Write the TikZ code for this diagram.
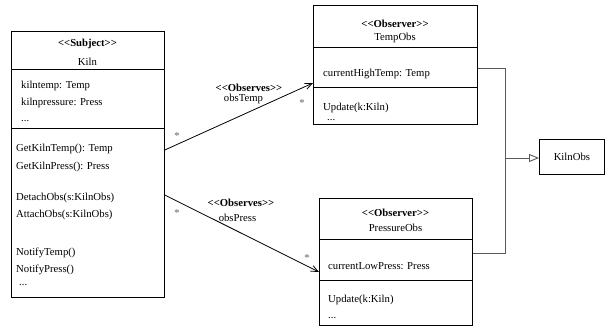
\documentclass[tikz,border=0pt]{standalone}
\usepackage{fontspec}
\setmainfont{Liberation Serif}
\usetikzlibrary{arrows.meta}
\newcommand{\stereo}[1]{\textless\kern0pt\textless\kern0pt#1\kern0pt\textgreater\kern0pt\textgreater}
\begin{document}
\begin{tikzpicture}[x=1pt,y=-1pt,
  box/.style={draw=black,line width=0.8pt,anchor=north west,inner sep=0pt},
  txt/.style={font=\fontsize{10.7}{12}\selectfont,inner sep=0pt},
  btxt/.style={txt,font=\fontsize{10.7}{12}\selectfont\bfseries},
  lt/.style={txt,anchor=base west},
  star/.style={txt,text=black!60},
  assoc/.style={draw=black,line width=0.8pt,-{Straight Barb[length=7pt,width=6pt]}},
  gline/.style={draw=black!65,line width=0.9pt},
  sep/.style={draw=black,line width=0.8pt}]
\useasboundingbox (0,0) rectangle (611,327);
% Kiln
\node[box,minimum width=153pt,minimum height=266pt] (kiln) at (11,31) {};
\node[btxt] (ks) at (87.5,44) {\stereo{Subject}};
\node[txt] (kn) at (87.5,62) {Kiln};
\draw[sep] (kiln.west |- 0,69) -- (kiln.east |- 0,69);
\node[lt] (k1) at (21,88) {kilntemp: Temp};
\node[lt] (k2) at (21,105) {kilnpressure: Press};
\node[lt] (k3) at (21,121) {...};
\draw[sep] (kiln.west |- 0,128) -- (kiln.east |- 0,128);
\node[lt] (m1) at (16,151) {GetKilnTemp(): Temp};
\node[lt] (m2) at (16,169) {GetKilnPress(): Press};
\node[lt] (m3) at (16,200) {DetachObs(s:KilnObs)};
\node[lt] (m4) at (16,217) {AttachObs(s:KilnObs)};
\node[lt] (m5) at (16,255) {NotifyTemp()};
\node[lt] (m6) at (16,272) {NotifyPress()};
\node[lt] (m7) at (19,285) {...};
% TempObs
\node[box,minimum width=164pt,minimum height=119pt] (tobs) at (313,5) {};
\node[btxt] (ts) at (395,24) {\stereo{Observer}};
\node[txt] (tn) at (395,38) {TempObs};
\draw[sep] (tobs.west |- 0,47) -- (tobs.east |- 0,47);
\node[lt] (t1) at (323,76) {currentHighTemp: Temp};
\draw[sep] (tobs.west |- 0,87) -- (tobs.east |- 0,87);
\node[lt] (t2) at (323,110.5) {Update(k:Kiln)};
\node[lt] (t3) at (327,120) {...};
% PressureObs
\node[box,minimum width=153pt,minimum height=127pt] (pobs) at (319,198) {};
\node[btxt] (ps) at (395.5,213) {\stereo{Observer}};
\node[txt] (pn) at (395.5,228) {PressureObs};
\draw[sep] (pobs.west |- 0,239) -- (pobs.east |- 0,239);
\node[lt] (p1) at (328,269) {currentLowPress: Press};
\draw[sep] (pobs.west |- 0,280) -- (pobs.east |- 0,280);
\node[lt] (p2) at (328,302) {Update(k:Kiln)};
\node[lt] (p3) at (328,318) {...};
% KilnObs
\node[box,minimum width=65pt,minimum height=35pt] (kobs) at (539,139) {};
\node[txt] (kot) at (kobs.center) {KilnObs};
% Associations
\draw[assoc] (kiln.east |- 0,150) -- (tobs.west |- 0,83);
\draw[assoc] (kiln.east |- 0,195) -- (pobs.west |- 0,272);
\node[btxt] (o1) at (249,88) {\stereo{Observes}};
\node[txt] (o1n) at (243.5,99) {obsTemp};
\node[btxt] (o2) at (241,203) {\stereo{Observes}};
\node[txt] (o2n) at (237.5,218) {obsPress};
\node[star] (s1) at (177,136) {*};
\node[star] (s2) at (302,103) {*};
\node[star] (s3) at (177,213) {*};
\node[star] (s4) at (307,258) {*};
% Generalization
\coordinate (jt) at (505,68);
\coordinate (jp) at (505,253);
\coordinate (jm) at (505,158);
\draw[gline] (tobs.east |- jt) -- (jt) -- (jp) -- (pobs.east |- jp);
\draw[gline,-{Triangle[open,length=10pt,width=8pt]}] (jm) -- (kobs.west |- jm);
\end{tikzpicture}
\end{document}
